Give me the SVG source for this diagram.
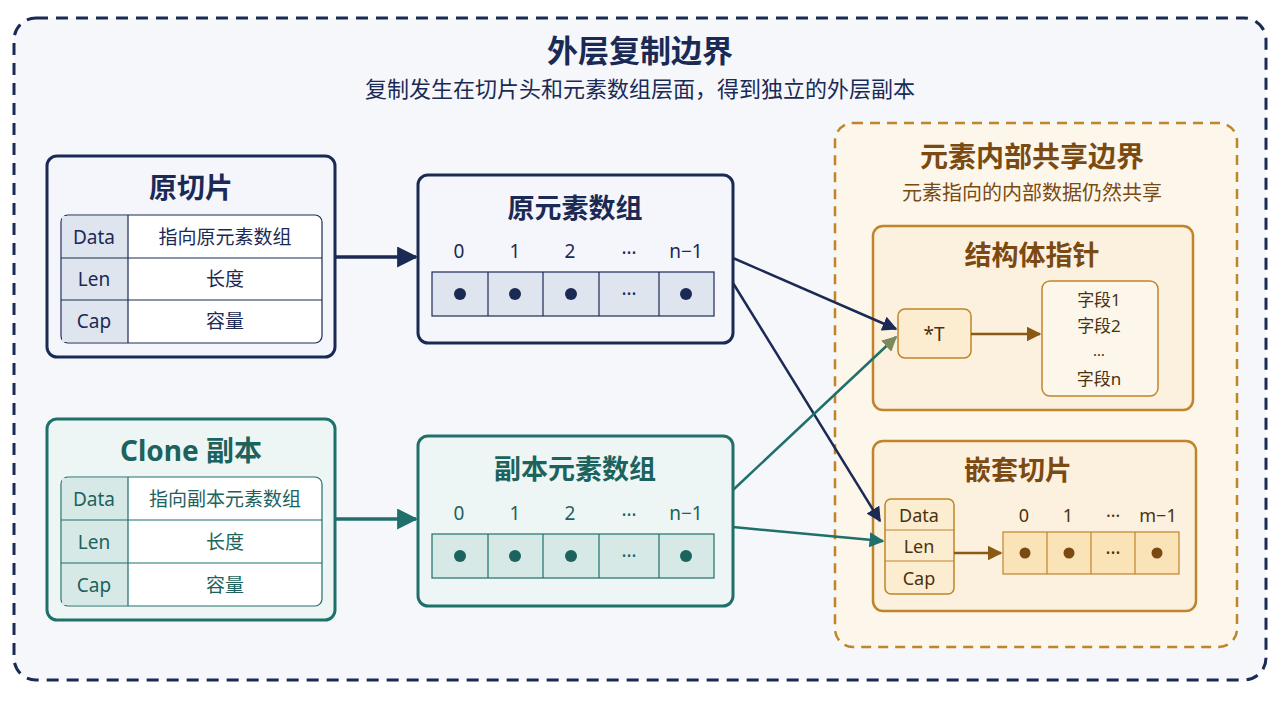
<svg xmlns="http://www.w3.org/2000/svg" width="1280" height="702" viewBox="0 0 1280 702">
<defs>
<style>
text{font-family:"Noto Sans","Noto Sans CJK SC",sans-serif;text-anchor:middle;dominant-baseline:central}
.navy{fill:#1b2a55}.teal{fill:#1c625d}.brown{fill:#7a4a12}
.t{font-size:28px;font-weight:bold}.s{font-size:20px}.c{font-size:19px}
.navyBox{fill:#f4f6fb;stroke:#1b2a55;stroke-width:3}
.tealBox{fill:#eef6f5;stroke:#1f6f6a;stroke-width:3}
.oBox{fill:#fcf1de;stroke:#c0842a;stroke-width:2.5}
</style>
<marker id="aN" viewBox="0 0 10 10" refX="9" refY="5" markerWidth="6" markerHeight="6" orient="auto"><path d="M0,0L10,5L0,10z" fill="#1b2a55"/></marker>
<marker id="aT" viewBox="0 0 10 10" refX="9" refY="5" markerWidth="6" markerHeight="6" orient="auto"><path d="M0,0L10,5L0,10z" fill="#1f6f6a"/></marker>
<marker id="aTO" viewBox="0 0 10 10" refX="9" refY="5" markerWidth="6" markerHeight="6" orient="auto"><path d="M0,0L10,5L0,10z" fill="#7a8a5a"/></marker>
<marker id="aO" viewBox="0 0 10 10" refX="9" refY="5" markerWidth="6" markerHeight="6" orient="auto"><path d="M0,0L10,5L0,10z" fill="#8a5a15"/></marker>
</defs>
<rect width="1280" height="702" fill="#ffffff"/>
<rect x="14" y="18" width="1252" height="662" rx="22" fill="#f5f7fa" stroke="#1b2a55" stroke-width="3" stroke-dasharray="12 8"/>
<text x="640" y="50" class="t navy" style="font-size:31px">外层复制边界</text>
<text x="640" y="88" class="s navy" style="font-size:22px">复制发生在切片头和元素数组层面，得到独立的外层副本</text>

<g id="orig-slice">
<rect x="47" y="156" width="288" height="201" rx="10" class="navyBox"/>
<text x="191" y="187" class="t navy">原切片</text>
<rect x="61" y="215" width="261" height="128" rx="7" fill="#ffffff" stroke="#1b2a55" stroke-width="1.2"/>
<path d="M62,216h66v126h-66z" fill="#dfe5ef"/>
<path d="M128,215v128M61,258h261M61,300h261" stroke="#1b2a55" stroke-width="1.2"/>
<text x="94" y="237" class="c navy">Data</text><text x="225" y="237" class="c navy">指向原元素数组</text>
<text x="94" y="279" class="c navy">Len</text><text x="225" y="279" class="c navy">长度</text>
<text x="94" y="321" class="c navy">Cap</text><text x="225" y="321" class="c navy">容量</text>
</g>

<g id="orig-array">
<rect x="418" y="175" width="315" height="168" rx="10" class="navyBox"/>
<text x="575" y="207" class="t navy" style="font-size:27px">原元素数组</text>
<g class="c navy"><text x="459" y="251">0</text><text x="515" y="251">1</text><text x="570" y="251">2</text><text x="629" y="247">…</text><text x="686" y="251">n−1</text></g>
<rect x="432" y="272" width="282" height="44" fill="#dfe5ef" stroke="#1b2a55" stroke-width="1.2"/>
<path d="M488,272v44M543,272v44M599,272v44M659,272v44" stroke="#1b2a55" stroke-width="1.2"/>
<g fill="#1b2a55"><circle cx="460" cy="294" r="6"/><circle cx="515" cy="294" r="6"/><circle cx="571" cy="294" r="6"/><circle cx="686" cy="294" r="6"/></g>
<text x="629" y="288" class="c navy">…</text>
</g>

<g id="clone-slice">
<rect x="47" y="419" width="288" height="201" rx="10" class="tealBox"/>
<text x="191" y="450" class="t teal">Clone 副本</text>
<rect x="61" y="477" width="261" height="129" rx="7" fill="#ffffff" stroke="#1f6f6a" stroke-width="1.2"/>
<path d="M62,478h66v127h-66z" fill="#d7e9e7"/>
<path d="M128,477v129M61,520h261M61,563h261" stroke="#1f6f6a" stroke-width="1.2"/>
<text x="94" y="499" class="c teal">Data</text><text x="225" y="499" class="c teal">指向副本元素数组</text>
<text x="94" y="542" class="c teal">Len</text><text x="225" y="542" class="c teal">长度</text>
<text x="94" y="585" class="c teal">Cap</text><text x="225" y="585" class="c teal">容量</text>
</g>

<g id="clone-array">
<rect x="418" y="436" width="315" height="170" rx="10" class="tealBox"/>
<text x="575" y="468" class="t teal" style="font-size:27px">副本元素数组</text>
<g class="c teal"><text x="459" y="513">0</text><text x="515" y="513">1</text><text x="570" y="513">2</text><text x="629" y="509">…</text><text x="686" y="513">n−1</text></g>
<rect x="432" y="534" width="282" height="44" fill="#d7e9e7" stroke="#1f6f6a" stroke-width="1.2"/>
<path d="M488,534v44M543,534v44M599,534v44M659,534v44" stroke="#1f6f6a" stroke-width="1.2"/>
<g fill="#1c625d"><circle cx="460" cy="556" r="6"/><circle cx="515" cy="556" r="6"/><circle cx="571" cy="556" r="6"/><circle cx="686" cy="556" r="6"/></g>
<text x="629" y="550" class="c teal">…</text>
</g>

<g id="inner-boundary">
<rect x="835" y="123" width="402" height="524" rx="18" fill="#fdf6ea" stroke="#c0842a" stroke-width="2.5" stroke-dasharray="10 7"/>
<text x="1032" y="156" class="t brown">元素内部共享边界</text>
<text x="1032" y="192" class="s brown">元素指向的内部数据仍然共享</text>
</g>

<g id="struct-ptr">
<rect x="873" y="226" width="320" height="184" rx="10" class="oBox"/>
<text x="1032" y="254" class="t brown" style="font-size:27px">结构体指针</text>
<rect x="898" y="309" width="73" height="49" rx="7" fill="#fcecd0" stroke="#c0842a" stroke-width="1.5"/>
<text x="934" y="334" class="c brown" style="fill:#4a3210">*T</text>
<rect x="1042" y="281" width="116" height="115" rx="8" fill="#fdf6ea" stroke="#c0842a" stroke-width="1.5"/>
<g class="c" style="fill:#4a3210;font-size:17px"><text x="1099" y="299">字段1</text><text x="1099" y="325">字段2</text><text x="1099" y="350" style="font-size:15px">…</text><text x="1099" y="378">字段n</text></g>
</g>

<g id="nested-slice">
<rect x="873" y="441" width="323" height="170" rx="10" class="oBox"/>
<text x="1018" y="469" class="t brown" style="font-size:27px">嵌套切片</text>
<rect x="885" y="499" width="69" height="95" rx="6" fill="#fcecd0" stroke="#c0842a" stroke-width="1.5"/>
<path d="M885,530h69M885,561h69" stroke="#c0842a" stroke-width="1.2"/>
<g class="c" style="fill:#4a3210;font-size:18px"><text x="919" y="515">Data</text><text x="919" y="546">Len</text><text x="919" y="578">Cap</text>
<text x="1024" y="515">0</text><text x="1068" y="515">1</text><text x="1113" y="510">…</text><text x="1158" y="515">m−1</text></g>
<rect x="1003" y="532" width="176" height="42" fill="#fbe3b8" stroke="#c0842a" stroke-width="1.2"/>
<path d="M1047,532v42M1091,532v42M1135,532v42" stroke="#c0842a" stroke-width="1.2"/>
<g fill="#7a4a12"><circle cx="1025" cy="553" r="5.5"/><circle cx="1069" cy="553" r="5.5"/><circle cx="1157" cy="553" r="5.5"/></g>
<text x="1113" y="547" class="c" style="fill:#4a3210">…</text>
</g>

<g id="connectors" fill="none" stroke-width="2.5">
<path d="M335,257H416" stroke="#1b2a55" stroke-width="3.5" marker-end="url(#aN)"/>
<path d="M335,519H416" stroke="#1f6f6a" stroke-width="3.5" marker-end="url(#aT)"/>
<path d="M733,258L896,329" stroke="#1b2a55" marker-end="url(#aN)"/>
<path d="M733,283L880,521" stroke="#1b2a55" marker-end="url(#aN)"/>
<path d="M733,490L896,337" stroke="#1f6f6a" marker-end="url(#aTO)"/>
<path d="M733,527L883,541" stroke="#1f6f6a" marker-end="url(#aT)"/>
<path d="M971,334H1040" stroke="#8a5a15" marker-end="url(#aO)"/>
<path d="M954,553H1001" stroke="#8a5a15" marker-end="url(#aO)"/>
</g>
</svg>
